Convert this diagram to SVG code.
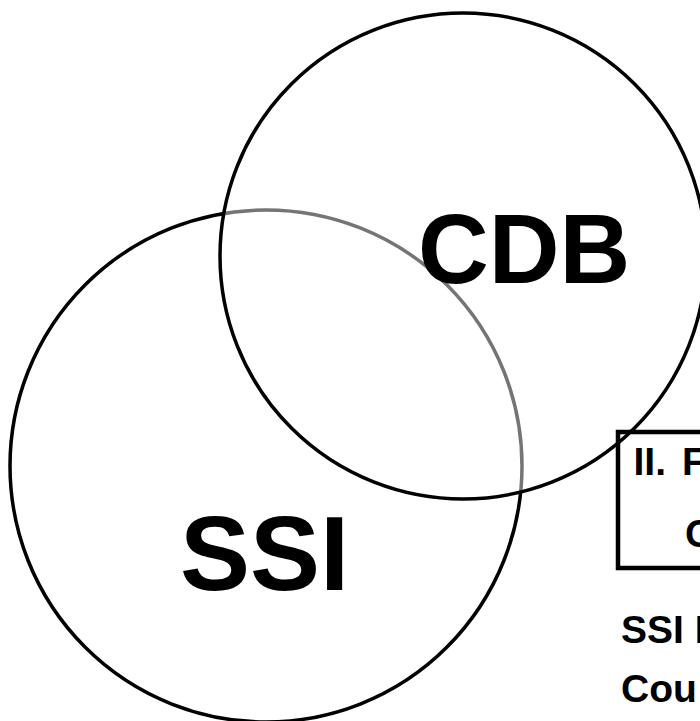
<svg xmlns="http://www.w3.org/2000/svg" width="700" height="721" viewBox="0 0 700 721">
  <style>
    .ring { stroke: #000; stroke-width: 3.5; }
    .big { font-family: "Liberation Sans", Arial, sans-serif; font-weight: bold; fill: #000; }
    .small { font-family: "Liberation Sans", Arial, sans-serif; font-weight: bold; font-size: 39px; fill: #000; }
  </style>
  <rect width="700" height="721" fill="#fff"/>

  <!-- SSI set -->
  <g id="ssi">
    <circle class="ring" cx="266" cy="466" r="256" fill="none"/>
  </g>

  <!-- CDB set: translucent white fill softens the SSI outline underneath -->
  <g id="cdb">
    <circle class="ring" cx="463" cy="256" r="243" fill="#fff" fill-opacity="0.46"/>
  </g>

  <g id="labels">
    <text class="big" x="418" y="283" font-size="98">CDB</text>
    <text class="big" x="180" y="590" font-size="105">SSI</text>
  </g>

  <!-- note box on the right -->
  <g id="note">
    <rect x="618" y="432" width="100" height="136" fill="none" stroke="#000" stroke-width="4.5"/>
    <text class="small" y="475"><tspan x="633.5">II.</tspan><tspan x="682">F</tspan></text>
    <text class="small" y="547"><tspan x="685">C</tspan></text>
  </g>

  <g id="caption">
    <text class="small" x="621" y="643" xml:space="preserve">SSI I</text>
    <text class="small" x="621" y="702">Cou</text>
  </g>
</svg>
